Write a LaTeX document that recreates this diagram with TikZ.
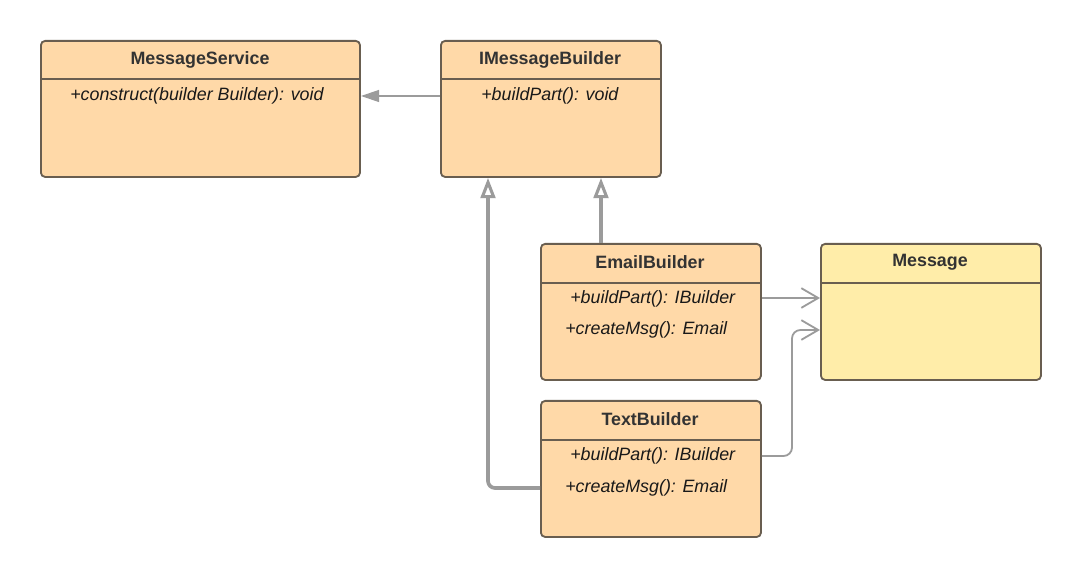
\documentclass[tikz,border=0pt]{standalone}
\usepackage{fontspec}
\setmainfont{Liberation Sans}
\usetikzlibrary{arrows.meta,calc}
\definecolor{peach}{RGB}{255,217,168}
\definecolor{lemon}{RGB}{255,237,169}
\definecolor{edge}{RGB}{105,94,80}
\definecolor{conn}{RGB}{155,155,155}
\definecolor{ttl}{RGB}{51,51,51}
\begin{document}
\begin{tikzpicture}[x=0.025cm,y=-0.025cm,
  box/.style={draw=edge,line width=1.3pt,rounded corners=3pt,fill=peach,
    minimum width=5.5cm,minimum height=3.4cm,inner sep=0pt,anchor=north west},
  hdr/.style={draw=edge,line width=1.3pt},
  title/.style={font=\fontsize{12.7}{15}\selectfont\bfseries,text=ttl,inner sep=0pt},
  meth/.style={font=\fontsize{12.7}{15}\selectfont\itshape,text=black!90,inner sep=0pt,anchor=west},
  thin/.style={draw=conn,line width=1.3pt},
  thick/.style={draw=conn,line width=2.6pt,rounded corners=5pt},
  fillhead/.style={-{Triangle[length=13pt,width=8.5pt]}},
  openhead/.style={-{Triangle[open,length=14.5pt,width=10.5pt,line width=2.2pt]}},
  barb/.style={-{Straight Barb[length=12pt,width=14pt,line width=1.3pt]}}
]
\useasboundingbox (0,0) rectangle (1080,576);

% boxes
\node[box,minimum width=7.975cm] (ms) at (40,40) {};
\node[box] (imb) at (440,40) {};
\node[box] (eb) at (540,243) {};
\node[box,fill=lemon] (msg) at (820,243) {};
\node[box] (tb) at (540,400) {};

% header separators
\draw[hdr] (40,79) -- (359,79);
\draw[hdr] (440,79) -- (660,79);
\draw[hdr] (540,283) -- (760,283);
\draw[hdr] (820,283) -- (1040,283);
\draw[hdr] (540,440) -- (760,440);

% titles
\node[title] (tms) at (200,59.5) {MessageService};
\node[title] (timb) at (550,59.5) {IMessageBuilder};
\node[title] (teb) at (650,262.5) {EmailBuilder};
\node[title] (tmsg) at (930,262.5) {Message};
\node[title] (ttb) at (650,419.5) {TextBuilder};

% methods
\node[meth] (m1) at (70,95.5) {+construct(builder Builder): void};
\node[meth] (m2) at (481,95.5) {+buildPart(): void};
\node[meth] (m3) at (570,298.5) {+buildPart(): IBuilder};
\node[meth] (m4) at (565,329.5) {+createMsg(): Email};
\node[meth] (m5) at (570,455.5) {+buildPart(): IBuilder};
\node[meth] (m6) at (565,487.5) {+createMsg(): Email};

% connectors
\draw[thin,fillhead] ($(imb.north west)+(0,56)$) -- ($(ms.north east)+(0,56)$);
\draw[thick,openhead] ($(eb.north west)+(61,0)$) -- ($(imb.south west)+(161,0)$);
\draw[thick,openhead] ($(tb.north west)+(0,88)$) -| ($(imb.south west)+(48,0)$);
\draw[thin,barb] ($(eb.north east)+(0,55)$) -- ($(msg.north west)+(0,55)$);
\draw[thin,barb,rounded corners=6pt] ($(tb.north east)+(0,56)$) -| ($(msg.north west)+(-28,87)$) -- ($(msg.north west)+(0,87)$);
\end{tikzpicture}
\end{document}
